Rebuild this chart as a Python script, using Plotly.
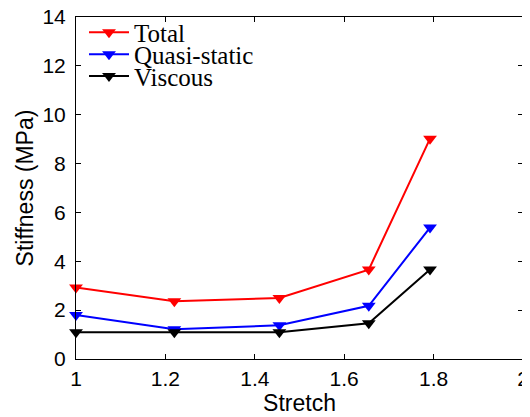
import plotly.graph_objects as go

stretch = [1.0, 1.22, 1.455, 1.655, 1.792]
total = [2.93, 2.36, 2.5, 3.66, 9.02]
quasi_static = [1.8, 1.22, 1.38, 2.18, 5.38]
viscous = [1.1, 1.1, 1.1, 1.46, 3.66]

series = [("Total", total, "#ff0000", "legend"),
          ("Quasi-static", quasi_static, "#0000ff", "legend2"),
          ("Viscous", viscous, "#000000", "legend3")]

x_ticks = [1, 1.2, 1.4, 1.6, 1.8, 2]
x_labels = ["1", "1.2", "1.4", "1.6", "1.8", "2"]
y_ticks = [0, 2, 4, 6, 8, 10, 12, 14]

fig = go.Figure()
for name, vals, col, lg in series:
    fig.add_trace(go.Scatter(
        x=stretch, y=vals, name=name, mode="lines+markers",
        line=dict(color=col, width=2),
        marker=dict(symbol="triangle-down", size=12, color=col),
        legend=lg, showlegend=True, cliponaxis=False))

# page body has an 8px margin, so the figure is 8px smaller than the window
W, H = 522, 409
ml, mr, mt, mb = 68, 7, 9, 58
ph = H - mt - mb
pw = W - ml - mr

def ly(pix):
    return (H - mb - pix) / ph

leg_common = dict(x=8 / pw, xanchor="left", yanchor="middle",
                  bgcolor="rgba(0,0,0,0)", borderwidth=0,
                  font=dict(family="Liberation Serif", size=25, color="black"),
                  itemwidth=40, tracegroupgap=0)

fig.update_layout(
    width=W, height=H, showlegend=True,
    margin=dict(l=ml, r=mr, t=mt, b=mb, autoexpand=False),
    paper_bgcolor="white", plot_bgcolor="white",
    font=dict(family="Liberation Sans", size=21, color="black"),
    legend=dict(y=ly(24.5), **leg_common),
    legend2=dict(y=ly(46.5), **leg_common),
    legend3=dict(y=ly(68.2), **leg_common),
    xaxis=dict(range=[1, 2], tickvals=x_ticks, ticktext=x_labels,
               ticks="inside", ticklen=5, tickwidth=1, tickcolor="black",
               showline=True, linecolor="black", linewidth=1, mirror="ticks",
               showgrid=False, zeroline=False, automargin=False,
               ticklabeloverflow="allow",
               tickfont=dict(size=21), ticklabelstandoff=1,
               title=dict(text="Stretch", font=dict(size=23), standoff=5)),
    yaxis=dict(range=[0, 14], tickvals=y_ticks,
               ticks="inside", ticklen=5, tickwidth=1, tickcolor="black",
               showline=True, linecolor="black", linewidth=1, mirror="ticks",
               showgrid=False, zeroline=False, automargin=False,
               ticklabeloverflow="allow",
               tickfont=dict(size=21), ticklabelstandoff=5,
               title=dict(text="Stiffness (MPa)", font=dict(size=23), standoff=2)),
)

fig.write_html("out.html")
